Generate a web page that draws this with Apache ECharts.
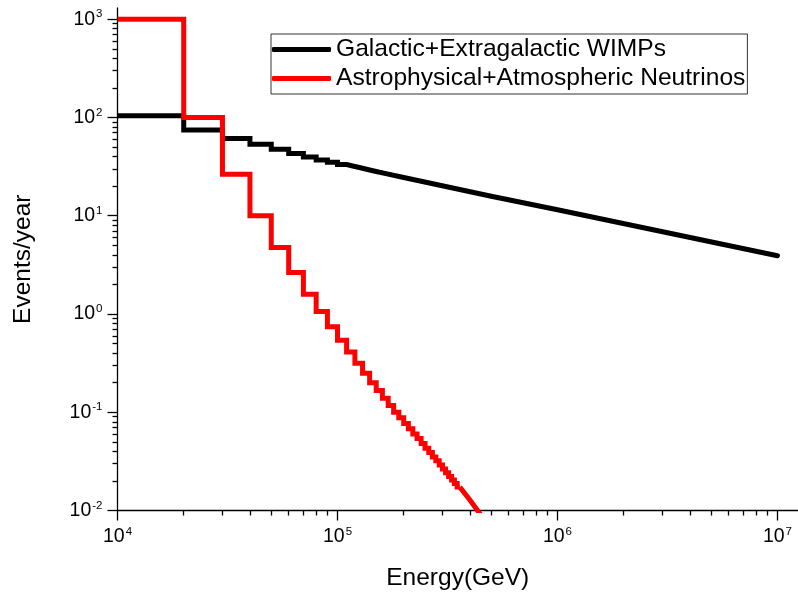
<!DOCTYPE html>
<html><head><meta charset="utf-8">
<script src="https://cdn.jsdelivr.net/npm/echarts@6/dist/echarts.min.js"></script>
<style>html,body{margin:0;padding:0;background:#fff}#c{width:798px;height:597px}</style>
</head><body><div id="c"></div>
<script>
// ---- data ----
const seriesNames = ['Galactic+Extragalactic WIMPs', 'Astrophysical+Atmospheric Neutrinos'];

// WIMP step bins (bin edges in GeV, value per bin in events/year)
const wimpEdges = [1e4, 2e4, 3e4, 4e4, 5e4, 6e4, 7e4, 8e4, 9e4, 1.0e5, 1.1e5, 1.2e5, 1.3e5, 1.4e5, 1.5e5, 1.6e5];
const wimpValues = [104, 74.5, 61, 53.5, 47.5, 43, 39.5, 37, 35, 33.2, 31.7, 30.4, 29.2, 28.2, 27.3];
// WIMP high-energy part (steps too fine to see)
const wimpTailEnergy = [2e5, 5e5, 1e6, 1e7];
const wimpTailValue  = [24.5, 15.8, 11.5, 3.92];

// Neutrino step bins
const nuEdges = [1e4, 2e4, 3e4, 4e4, 5e4, 6e4, 7e4, 8e4, 9e4, 1.0e5, 1.1e5, 1.2e5, 1.3e5, 1.4e5, 1.5e5,
                 1.6e5, 1.7e5, 1.8e5, 1.9e5, 2.0e5, 2.1e5, 2.2e5, 2.3e5, 2.4e5, 2.5e5, 2.6e5, 2.7e5, 2.8e5, 2.9e5,
                 3.0e5, 3.1e5, 3.2e5, 3.3e5, 3.4e5, 3.5e5, 3.6e5];
const nuValues = [1000, 100, 26.5, 10.0, 4.76, 2.64, 1.59, 1.06, 0.74, 0.54, 0.41, 0.315, 0.25, 0.20, 0.166,
                  0.139, 0.117, 0.100, 0.088, 0.077, 0.068, 0.060, 0.054, 0.048, 0.043, 0.039, 0.035, 0.032, 0.029,
                  0.0265, 0.0242, 0.0222, 0.0204, 0.0188, 0.0173];
const nuTailEnergy = [4.0e5, 4.5e5];
const nuTailValue  = [0.0128, 0.0089];

// axis ticks
const xMajorTicks = [1e4, 1e5, 1e6, 1e7];
const yMajorTicks = [1e-2, 1e-1, 1e0, 1e1, 1e2, 1e3];
const minorMultipliers = [2, 3, 4, 5, 6, 7, 8, 9];
const xRange = [1e4, 1.24e7];
const yRange = [1e-2, 1300];

// ---- build ----
function minorTicks(majors, range) {
  const out = [];
  majors.forEach(m => minorMultipliers.forEach(k => { const v = m * k; if (v > range[0] && v < range[1]) out.push(v); }));
  return out;
}
function stepData(edges, values) {
  const d = values.map((v, i) => [edges[i], v]);
  d.push([edges[edges.length - 1], values[values.length - 1]]);
  return d;
}
function tailData(edges, values, te, tv) {
  const d = [[edges[edges.length - 1], values[values.length - 1]]];
  te.forEach((e, i) => d.push([e, tv[i]]));
  return d;
}
const FONT = 'Liberation Sans, Arial, sans-serif';
const rich = {
  b: { fontSize: 19.5, fontFamily: FONT, color: '#000', lineHeight: 22 },
  s: { fontSize: 11.5, fontFamily: FONT, color: '#000', verticalAlign: 'top', lineHeight: 22, padding: [0, 0, 0, 1] }
};
function powLabel(v) { const e = Math.round(Math.log10(v)); return '{b|10}{s|' + e + '}'; }
const axisLineStyle = { color: '#000', width: 1.3 };

const chart = echarts.init(document.getElementById('c'), null, { renderer: 'canvas' });
chart.setOption({
  animation: false,
  backgroundColor: '#fff',
  grid: { left: 117.5, right: 0, top: 8, bottom: 86.5, containLabel: false },
  legend: {
    data: seriesNames, orient: 'vertical', left: 271, top: 34,
    padding: [3, 2, 3, 1], itemGap: 4, itemWidth: 59, itemHeight: 5, icon: 'roundRect',
    borderColor: '#333', borderWidth: 1,
    textStyle: { fontSize: 24.6, fontFamily: FONT, color: '#000' }
  },
  xAxis: [{
    type: 'log', logBase: 10, min: xRange[0], max: xRange[1], position: 'bottom',
    axisLine: { lineStyle: axisLineStyle },
    axisTick: { customValues: xMajorTicks, length: 10, lineStyle: axisLineStyle },
    axisLabel: { customValues: xMajorTicks, formatter: powLabel, rich: rich, margin: 15, fontSize: 19.5, fontFamily: FONT, color: '#000' },
    splitLine: { show: false },
    name: 'Energy(GeV)', nameLocation: 'middle', nameGap: 55,
    nameTextStyle: { fontSize: 24.5, fontFamily: FONT, color: '#000' }
  }, {
    type: 'log', logBase: 10, min: xRange[0], max: xRange[1], position: 'bottom',
    axisLine: { show: false },
    axisTick: { customValues: minorTicks(xMajorTicks, xRange), length: 5, lineStyle: axisLineStyle },
    axisLabel: { show: false }, splitLine: { show: false }
  }],
  yAxis: [{
    type: 'log', logBase: 10, min: yRange[0], max: yRange[1], position: 'left',
    axisLine: { lineStyle: axisLineStyle },
    axisTick: { customValues: yMajorTicks, length: 10, lineStyle: axisLineStyle },
    axisLabel: { customValues: yMajorTicks, formatter: powLabel, rich: rich, margin: 15, fontSize: 19.5, fontFamily: FONT, color: '#000' },
    splitLine: { show: false },
    name: 'Events/year', nameLocation: 'middle', nameGap: 82, nameRotate: 90,
    nameTextStyle: { fontSize: 24.5, fontFamily: FONT, color: '#000' }
  }, {
    type: 'log', logBase: 10, min: yRange[0], max: yRange[1], position: 'left',
    axisLine: { show: false },
    axisTick: { customValues: minorTicks(yMajorTicks, yRange), length: 5, lineStyle: axisLineStyle },
    axisLabel: { show: false }, splitLine: { show: false }
  }],
  series: [
    { name: seriesNames[0], type: 'line', step: 'end', data: stepData(wimpEdges, wimpValues), symbol: 'none',
      lineStyle: { color: '#000', width: 5, join: 'miter' }, itemStyle: { color: '#000' }, z: 2 },
    { name: seriesNames[0], type: 'line', data: tailData(wimpEdges, wimpValues, wimpTailEnergy, wimpTailValue), symbol: 'none',
      lineStyle: { color: '#000', width: 5, cap: 'round', join: 'round' }, itemStyle: { color: '#000' }, z: 2 },
    { name: seriesNames[1], type: 'line', step: 'end', data: stepData(nuEdges, nuValues), symbol: 'none',
      lineStyle: { color: '#ff0000', width: 5, join: 'miter' }, itemStyle: { color: '#ff0000' }, z: 3 },
    { name: seriesNames[1], type: 'line', data: tailData(nuEdges, nuValues, nuTailEnergy, nuTailValue), symbol: 'none',
      lineStyle: { color: '#ff0000', width: 5, join: 'round' }, itemStyle: { color: '#ff0000' }, z: 3 }
  ]
});
</script></body></html>
